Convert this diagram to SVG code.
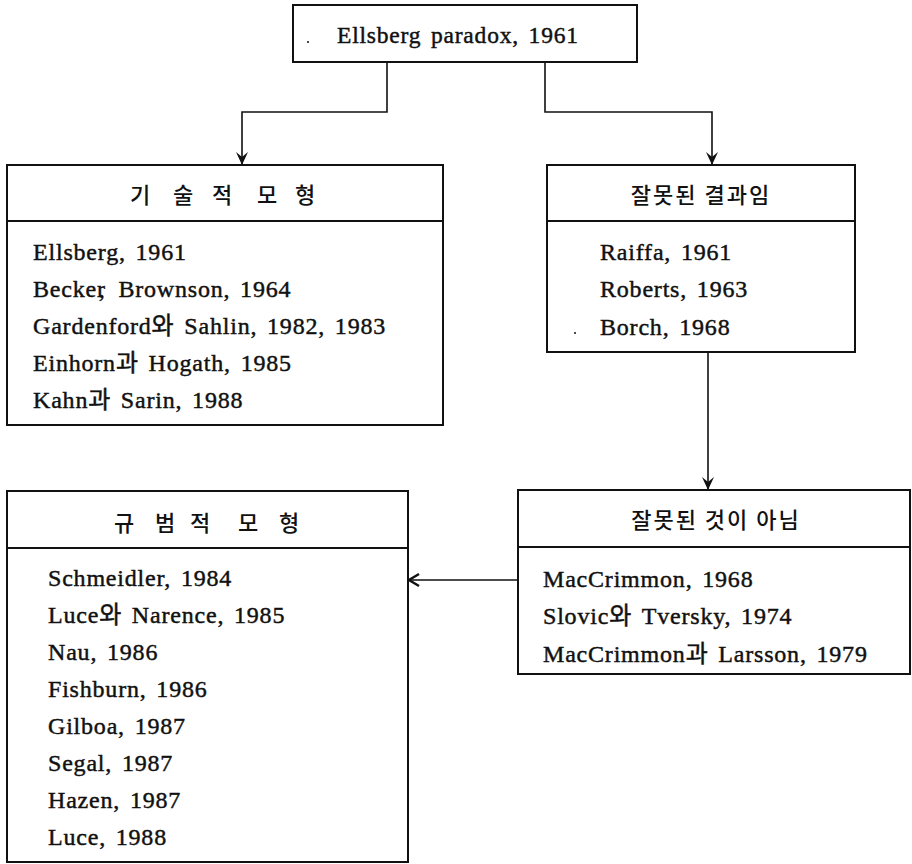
<svg xmlns="http://www.w3.org/2000/svg" width="912" height="864" viewBox="0 0 912 864">
<style>
.box{fill:#fff;stroke:#111;stroke-width:2}
.div{stroke:#111;stroke-width:2}
.t{font-family:"Liberation Serif","Noto Sans CJK KR",serif;font-size:24px;letter-spacing:0.8px;word-spacing:3px;fill:#111;stroke:#111;stroke-width:0.45}
.h{font-family:"Noto Sans CJK KR",sans-serif;font-size:22px;font-weight:500;fill:#111;text-anchor:middle;dominant-baseline:central}
.conn{fill:none;stroke:#111;stroke-width:1.6}
</style>
<defs>
<marker id="ahDown" markerUnits="userSpaceOnUse" viewBox="-14 -8 16 16" refX="0" refY="0" markerWidth="16" markerHeight="16" orient="auto">
<path d="M-13,-6 L0,0 L-13,6 L-8,0 Z" fill="#111"/>
</marker>
<marker id="ahOpen" markerUnits="userSpaceOnUse" viewBox="-12 -8 14 16" refX="0" refY="0" markerWidth="14" markerHeight="16" orient="auto">
<path d="M-10,-6 L0,0 L-10,6" fill="none" stroke="#111" stroke-width="2.4"/>
</marker>
</defs>
<rect width="912" height="864" fill="#fff"/>
<g id="connectors">
<path class="conn" d="M387,62 V112 H242 V165" marker-end="url(#ahDown)"/>
<path class="conn" d="M545,62 V112 H712 V165" marker-end="url(#ahDown)"/>
<path class="conn" d="M708,352 V490" marker-end="url(#ahDown)"/>
<path class="conn" d="M518,580 H409" marker-end="url(#ahOpen)"/>
</g>
<g id="ellsberg">
<rect class="box" x="293" y="5" width="344" height="57"/>
<circle cx="308" cy="42" r="1" fill="#111"/>
<text class="t" x="337" y="43" style="font-size:23.5px">Ellsberg paradox, 1961</text>
</g>
<g id="descriptive">
<rect class="box" x="7" y="165" width="436" height="260"/>
<line class="div" x1="7" y1="221" x2="443" y2="221"/>
<text class="h"><tspan x="140" y="193">기</tspan><tspan x="183" y="193">술</tspan><tspan x="222" y="193">적</tspan><tspan x="267" y="193">모</tspan><tspan x="305" y="193">형</tspan></text>
<text class="t" x="33" y="260">Ellsberg, 1961</text>
<text class="t" x="33" y="297">Becker<tspan dx="-6">,</tspan><tspan dx="3"> Brownson, 1964</tspan></text>
<text class="t" x="33" y="334">Gardenford와 Sahlin, 1982, 1983</text>
<text class="t" x="33" y="371">Einhorn과 Hogath, 1985</text>
<text class="t" x="33" y="408">Kahn과 Sarin, 1988</text>
</g>
<g id="wrong">
<rect class="box" x="547" y="165" width="308" height="187"/>
<line class="div" x1="547" y1="221" x2="855" y2="221"/>
<text class="h" x="701" y="193" style="letter-spacing:2px">잘못된 결과임</text>
<text class="t" x="600" y="260">Raiffa, 1961</text>
<text class="t" x="600" y="297">Roberts, 1963</text>
<circle cx="575" cy="333" r="1" fill="#111"/>
<text class="t" x="600" y="335">Borch, 1968</text>
</g>
<g id="notwrong">
<rect class="box" x="518" y="490" width="392" height="184"/>
<line class="div" x1="518" y1="547" x2="910" y2="547"/>
<text class="h" x="716" y="518" style="letter-spacing:2px">잘못된 것이 아님</text>
<text class="t" x="543" y="587">MacCrimmon, 1968</text>
<text class="t" x="543" y="624">Slovic와 Tversky, 1974</text>
<text class="t" x="543" y="662">MacCrimmon과 Larsson, 1979</text>
</g>
<g id="normative">
<rect class="box" x="7" y="491" width="401" height="371"/>
<line class="div" x1="7" y1="548" x2="408" y2="548"/>
<text class="h"><tspan x="124" y="521">규</tspan><tspan x="165" y="521">범</tspan><tspan x="200" y="521">적</tspan><tspan x="248" y="521">모</tspan><tspan x="289" y="521">형</tspan></text>
<text class="t" x="48" y="586">Schmeidler, 1984</text>
<text class="t" x="48" y="623">Luce와 Narence, 1985</text>
<text class="t" x="48" y="660">Nau, 1986</text>
<text class="t" x="48" y="697">Fishburn, 1986</text>
<text class="t" x="48" y="734">Gilboa, 1987</text>
<text class="t" x="48" y="771">Segal, 1987</text>
<text class="t" x="48" y="808">Hazen, 1987</text>
<text class="t" x="48" y="845">Luce, 1988</text>
</g>
</svg>
